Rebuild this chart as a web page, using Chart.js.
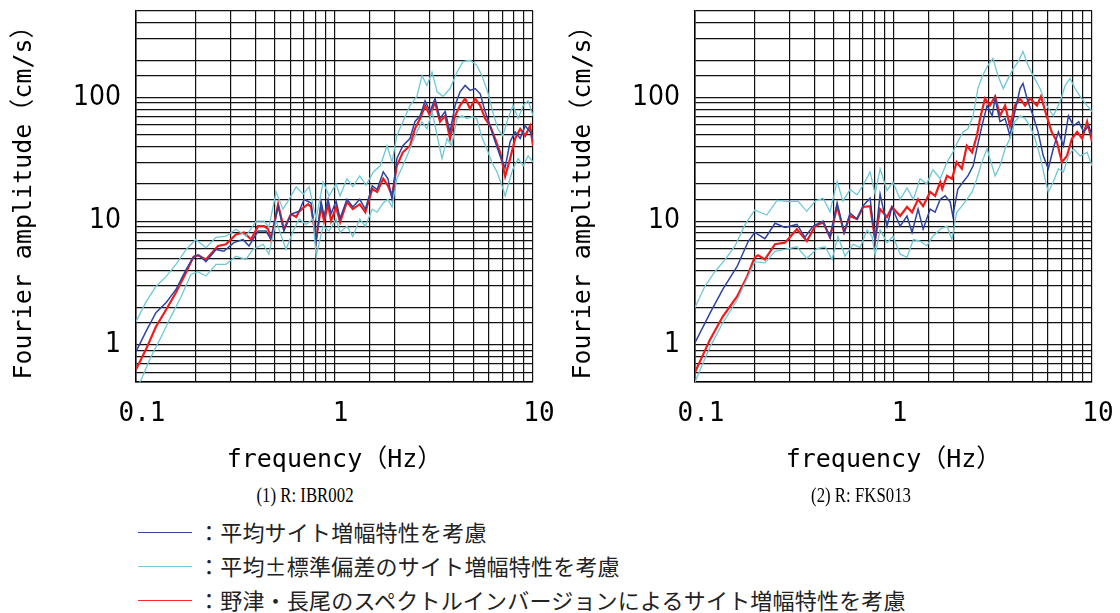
<!DOCTYPE html>
<html lang="ja">
<head>
<meta charset="UTF-8">
<title>Fourier amplitude spectra</title>
<script src="https://cdn.jsdelivr.net/npm/chart.js"></script>
<style>
  body { margin: 0; width: 1120px; height: 613px; background: #fff; overflow: hidden; position: relative; }
  canvas { position: absolute; top: 0; }
  #c1 { left: 0; }
  #c2 { left: 559px; }
  .caption {
    position: absolute; top: 481px; width: 300px; text-align: center;
    font-family: "Liberation Serif", serif; font-size: 21px; line-height: 28px; color: #000;
    transform: scaleX(0.8);
  }
  .legend-row { position: absolute; left: 0; height: 30px; }
  .legend-line { position: absolute; left: 138px; top: 14px; width: 54px; height: 0; border-top: 1.5px solid; }
  .legend-text {
    position: absolute; left: 198px; top: -2px; white-space: nowrap;
    font-family: "Noto Sans CJK JP", sans-serif; font-size: 22px; letter-spacing: 0.2px; line-height: 30px; color: #222;
  }
</style>
</head>
<body>
<canvas id="c1" width="560" height="480"></canvas>
<canvas id="c2" width="560" height="480"></canvas>

<div class="caption" style="left:155px">(1) R: IBR002</div>
<div class="caption" style="left:711px">(2) R: FKS013</div>

<div class="legend-row" style="top:518px">
  <div class="legend-line" style="border-color:#3346a0"></div>
  <div class="legend-text">：平均サイト増幅特性を考慮</div>
</div>
<div class="legend-row" style="top:552px">
  <div class="legend-line" style="border-color:#74ccd8"></div>
  <div class="legend-text">：平均±標準偏差のサイト増幅特性を考慮</div>
</div>
<div class="legend-row" style="top:586px">
  <div class="legend-line" style="border-color:#f52a2a"></div>
  <div class="legend-text">：野津・長尾のスペクトルインバージョンによるサイト増幅特性を考慮</div>
</div>

<script>
  // [frequency (Hz), amplitude (cm/s)]

  // (1) R: IBR002
  const ibrMean = [[0.100,0.88],[0.112,1.27],[0.126,1.82],[0.142,2.2],[0.159,2.8],[0.179,4.07],[0.196,5.2],[0.208,5.3],[0.225,4.7],[0.253,5.9],[0.277,5.7],[0.311,6.7],[0.346,7.1],[0.371,6.3],[0.412,8.3],[0.452,8.3],[0.479,7.1],[0.520,13.2],[0.556,8.3],[0.604,11.4],[0.664,12.0],[0.703,15],[0.736,14.4],[0.762,14],[0.808,6.8],[0.856,14.4],[0.886,11],[0.928,15],[0.961,11.5],[1.019,14.5],[1.067,10.5],[1.155,15],[1.237,13],[1.34,15],[1.43,12.5],[1.55,19.3],[1.64,18],[1.76,25],[1.86,22],[1.95,15],[2.06,32],[2.21,40.7],[2.40,46.5],[2.54,63.7],[2.70,71],[2.86,94],[3.03,77],[3.21,98],[3.40,67.5],[3.61,77],[3.82,52.7],[4.05,86],[4.29,111],[4.55,125],[4.82,114],[5.11,118],[5.42,107],[5.74,77],[6.08,59],[6.44,44],[6.83,33.7],[7.24,27],[7.67,44],[8.13,52.7],[8.62,46.5],[9.13,59],[9.67,52.7],[10.0,46.5]];
  const ibrPlus = [[0.100,1.54],[0.112,2.2],[0.126,2.96],[0.142,3.57],[0.159,4.47],[0.179,5.9],[0.200,7.1],[0.225,6.1],[0.253,7.4],[0.284,7.55],[0.319,8.6],[0.358,7.55],[0.403,10],[0.442,10],[0.467,8.9],[0.508,17.2],[0.550,12.5],[0.590,15],[0.641,18.9],[0.695,16.5],[0.745,18.9],[0.808,10.4],[0.876,20.7],[0.939,16],[1.019,20],[1.067,16],[1.155,22],[1.237,19],[1.34,23.2],[1.44,19.5],[1.57,25],[1.70,28],[1.84,40.7],[1.95,30],[2.06,49],[2.21,63.7],[2.40,86],[2.60,102],[2.76,150],[2.92,125],[3.10,160],[3.29,111],[3.52,102],[3.82,118],[4.14,160],[4.44,195],[4.82,200],[5.21,182],[5.53,150],[5.91,111],[6.26,77],[6.65,55.7],[7.05,49],[7.48,67.5],[7.93,86],[8.42,67.5],[8.92,86],[9.45,94],[10.0,71]];
  const ibrMinus = [[0.100,0.44],[0.106,0.52],[0.119,0.8],[0.134,1.16],[0.150,1.69],[0.169,2.46],[0.189,3.7],[0.205,3.9],[0.225,3.6],[0.253,4.47],[0.284,4.47],[0.319,5.2],[0.358,4.9],[0.388,5.9],[0.437,6.5],[0.467,5.4],[0.508,10],[0.570,5.9],[0.619,8.3],[0.664,10.4],[0.719,9.4],[0.780,10.4],[0.808,5.2],[0.876,9.1],[0.939,8.3],[1.019,10.4],[1.067,8.1],[1.155,9.1],[1.237,7.5],[1.34,10.4],[1.43,9.1],[1.55,12.5],[1.64,11.8],[1.76,14],[1.86,15],[1.95,13],[2.06,22],[2.21,28],[2.40,38.5],[2.60,52.7],[2.76,63.7],[2.92,55.7],[3.10,77],[3.29,49],[3.48,32],[3.69,46.5],[3.89,40.7],[4.14,67.5],[4.39,71],[4.65,67.5],[4.94,70],[5.21,67.5],[5.49,49],[5.85,38.5],[6.2,30],[6.58,25],[6.98,19.3],[7.24,16],[7.57,20.7],[7.93,26.5],[8.42,32],[8.92,28],[9.45,33.7],[10.0,30]];
  const ibrNozu = [[0.100,0.63],[0.112,0.91],[0.126,1.4],[0.142,1.93],[0.159,2.65],[0.179,3.85],[0.194,5.1],[0.205,5.3],[0.225,4.9],[0.259,6.3],[0.284,6.5],[0.319,7.8],[0.350,8.1],[0.380,7.1],[0.412,9.1],[0.442,9.1],[0.463,8.6],[0.479,7.1],[0.520,13.7],[0.556,8.6],[0.604,11.4],[0.641,10.8],[0.664,12.0],[0.703,13.0],[0.736,13.7],[0.762,13.0],[0.808,7.1],[0.856,13.2],[0.886,10],[0.928,13.7],[0.961,10],[1.019,13],[1.067,9.8],[1.155,14.3],[1.237,12.5],[1.34,13.7],[1.43,11.8],[1.55,18.2],[1.64,17.2],[1.76,22],[1.86,19.3],[1.95,16],[2.06,28],[2.21,36],[2.40,40.7],[2.54,55.7],[2.70,67.5],[2.86,86],[3.03,71],[3.21,92],[3.40,63.7],[3.61,71],[3.82,46.5],[4.05,71],[4.29,86],[4.55,98],[4.82,81],[5.11,98],[5.42,86],[5.74,67.5],[6.08,59],[6.44,46.5],[6.83,36],[7.24,23],[7.67,32],[8.13,46.5],[8.62,55.7],[9.13,49],[9.67,59],[10.0,40.7]];

  // (2) R: FKS013
  const fksMean = [[0.100,1.04],[0.119,1.8],[0.138,2.8],[0.163,4.3],[0.185,6.8],[0.200,8.1],[0.225,7.2],[0.253,9.6],[0.284,8.9],[0.326,9.4],[0.358,7.4],[0.394,9.1],[0.442,10],[0.479,7.4],[0.520,14],[0.564,8.1],[0.604,11.6],[0.655,10.4],[0.703,13.3],[0.762,15.3],[0.808,6.9],[0.856,16.5],[0.928,9.1],[0.982,13],[1.08,9.1],[1.17,11],[1.24,8.1],[1.33,12.5],[1.41,8.6],[1.53,12.5],[1.62,11.8],[1.72,15],[1.82,16],[1.93,14.3],[1.99,11],[2.11,18.2],[2.24,20.7],[2.37,23.2],[2.52,28],[2.63,38.5],[2.79,59],[2.96,86],[3.14,71],[3.25,98],[3.44,63.7],[3.65,67.5],[3.86,49],[4.09,77],[4.34,118],[4.49,130],[4.76,92],[5.05,71],[5.35,52.7],[5.68,33.7],[6.02,26.5],[6.38,38.5],[6.77,52.7],[7.18,40.7],[7.61,71],[8.08,59],[8.57,63.7],[9.08,52.7],[9.63,59],[10.0,49]];
  const fksPlus = [[0.100,2.0],[0.112,2.96],[0.126,3.9],[0.142,4.9],[0.159,6.3],[0.179,9.4],[0.200,12.3],[0.230,11.2],[0.259,14.7],[0.294,14.4],[0.330,14.5],[0.366,12],[0.403,14.5],[0.442,15.3],[0.479,11.9],[0.520,21],[0.556,14.5],[0.604,18],[0.655,16.3],[0.703,19.5],[0.762,25],[0.808,16.5],[0.856,26.5],[0.928,17.7],[0.994,20.7],[1.08,15],[1.17,18.5],[1.26,15],[1.36,22],[1.47,20],[1.58,26],[1.72,22],[1.86,30],[1.99,36],[2.11,44],[2.24,52.7],[2.37,55.7],[2.52,71],[2.66,118],[2.81,150],[2.99,182],[3.17,207],[3.36,150],[3.57,118],[3.78,142],[4.01,171],[4.25,195],[4.49,235],[4.76,182],[5.05,150],[5.47,118],[5.91,86],[6.38,71],[6.90,92],[7.32,125],[7.75,142],[8.22,118],[8.71,102],[9.45,86],[10.0,77]];
  const fksMinus = [[0.100,0.5],[0.119,0.96],[0.138,1.5],[0.163,2.3],[0.185,3.57],[0.200,4.7],[0.225,4.6],[0.253,5.7],[0.284,5.9],[0.326,6.2],[0.366,5.0],[0.412,6.0],[0.452,6.2],[0.490,4.9],[0.525,7.55],[0.570,5.2],[0.626,6.5],[0.679,6.1],[0.736,8.5],[0.780,7.5],[0.808,5.3],[0.856,8.5],[0.928,6.7],[0.994,7.55],[1.08,5.4],[1.17,5.1],[1.26,7.1],[1.36,6.9],[1.47,6.3],[1.58,7.55],[1.72,8.6],[1.86,9.1],[1.97,7.1],[2.08,11.8],[2.21,13.2],[2.34,15],[2.49,17.2],[2.63,22],[2.79,30],[2.96,38.5],[3.06,32],[3.25,23.2],[3.44,28],[3.65,38.5],[3.86,46.5],[4.09,63.7],[4.34,71],[4.60,67.5],[4.87,59],[5.16,46.5],[5.47,33.7],[5.80,22],[6.02,17.2],[6.38,20.7],[6.77,26.5],[7.18,25],[7.61,33.7],[8.08,38.5],[8.71,33.7],[9.45,36],[10.0,28]];
  const fksNozu = [[0.100,0.60],[0.119,1.1],[0.138,1.69],[0.163,2.46],[0.183,3.57],[0.200,5.1],[0.208,5.3],[0.225,4.9],[0.253,6.5],[0.284,6.7],[0.326,8.6],[0.366,6.9],[0.403,9.1],[0.442,9.8],[0.479,7.4],[0.520,13.2],[0.564,8.1],[0.604,11],[0.655,10.4],[0.703,13],[0.762,13.2],[0.808,7.1],[0.856,12.5],[0.928,10.8],[0.982,13],[1.08,11],[1.17,13],[1.24,11.8],[1.33,15],[1.41,13.2],[1.53,17.2],[1.62,16],[1.72,20.7],[1.76,18.2],[1.86,23.2],[1.97,22],[2.08,30],[2.21,26.5],[2.34,40.7],[2.49,36],[2.63,49],[2.73,67.5],[2.89,98],[3.06,86],[3.25,102],[3.44,71],[3.65,86],[3.86,59],[4.09,86],[4.34,98],[4.60,86],[4.87,98],[5.28,86],[5.53,102],[5.91,71],[6.26,52.7],[6.65,44],[7.05,30],[7.48,33.7],[7.93,46.5],[8.42,52.7],[8.92,46.5],[9.45,63.7],[10.0,44]];

  const xLabels = {0.1: '0.1', 1: '1', 10: '10'};
  const yLabels = {1: '1', 10: '10', 100: '100'};

  const BLUE = '#2e44a0', CYAN = '#6ec8d5', RED = '#f01c1c';
  const monoFont = '"DejaVu Sans Mono", "Noto Sans CJK JP", monospace';

  function toXY(pairs) {
    return pairs.map(p => ({x: p[0], y: p[1]}));
  }

  function makeChart(id, mean, plus, minus, nozu) {
    return new Chart(document.getElementById(id), {
      type: 'line',
      data: {
        datasets: [
          {data: toXY(plus), borderColor: CYAN, borderWidth: 1.3},
          {data: toXY(minus), borderColor: CYAN, borderWidth: 1.3},
          {data: toXY(mean), borderColor: BLUE, borderWidth: 1.5},
          {data: toXY(nozu), borderColor: RED, borderWidth: 2.2}
        ]
      },
      options: {
        responsive: false,
        animation: false,
        devicePixelRatio: 1,
        layout: {padding: {top: 11, right: 27, left: 0, bottom: 0}},
        elements: {point: {radius: 0}, line: {tension: 0}},
        plugins: {legend: {display: false}, tooltip: {enabled: false}},
        scales: {
          x: {
            type: 'logarithmic',
            min: 0.1,
            max: 10,
            afterFit: s => { s.height = 98; s.paddingLeft = 0; s.paddingRight = 0; },
            grid: {color: '#111', lineWidth: 1.2, drawTicks: false},
            border: {display: true, color: '#000', width: 1.5},
            ticks: {
              autoSkip: false, maxRotation: 0, padding: 17, labelOffset: 6,
              color: '#000', font: {family: monoFont, size: 26},
              callback: v => xLabels[v] || ''
            },
            title: {
              display: true, text: 'frequency（Hz）', color: '#000',
              font: {family: monoFont, size: 25}, padding: {top: 0, bottom: 5}
            }
          },
          y: {
            type: 'logarithmic',
            min: 0.5,
            max: 500,
            afterFit: s => { s.width = 136; s.paddingTop = 0; s.paddingBottom = 0; },
            grid: {color: '#111', lineWidth: 1.2, drawTicks: false},
            border: {display: true, color: '#000', width: 1.5},
            ticks: {
              autoSkip: false, padding: 15, color: '#000',
              font: {family: '"Liberation Sans Narrow", "DejaVu Sans Condensed", sans-serif', size: 28},
              callback: v => yLabels[v] || ''
            },
            title: {
              display: true, text: 'Fourier amplitude（cm/s）', color: '#000',
              font: {family: monoFont, size: 25}, padding: {top: 9, bottom: 0}
            }
          }
        }
      }
    });
  }

  makeChart('c1', ibrMean, ibrPlus, ibrMinus, ibrNozu);
  makeChart('c2', fksMean, fksPlus, fksMinus, fksNozu);
</script>
</body>
</html>
